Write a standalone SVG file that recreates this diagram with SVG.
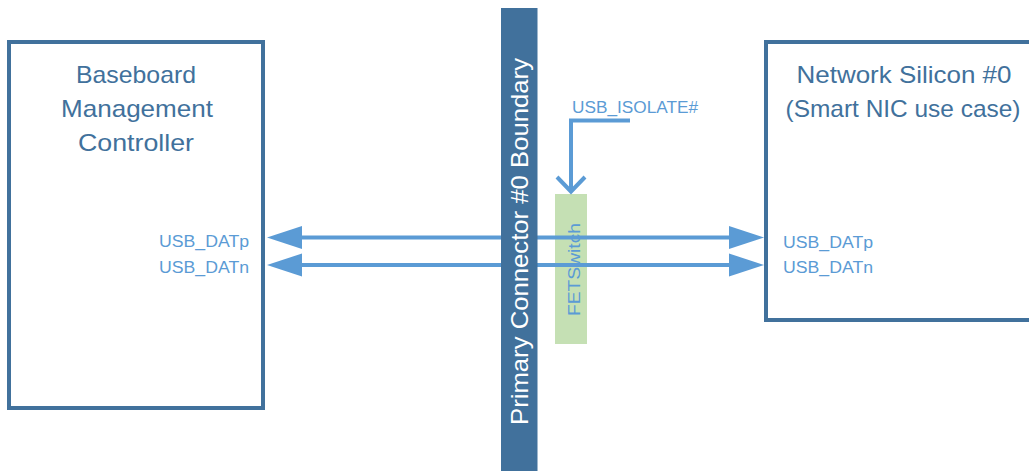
<svg xmlns="http://www.w3.org/2000/svg" width="1029" height="471" viewBox="0 0 1029 471">
<style>
.box{fill:#ffffff;stroke:#41719C;stroke-width:4}
.title{font-family:"Liberation Sans",Arial,sans-serif;font-size:24px;fill:#41719C;text-anchor:middle}
.lbl{font-family:"Liberation Sans",Arial,sans-serif;font-size:16px;fill:#5B9BD5}
.wire{stroke:#5B9BD5;stroke-width:4;fill:none}
.head{fill:#5B9BD5}
</style>
<rect width="1029" height="471" fill="#ffffff"/>
<g id="bmc">
<rect class="box" x="9" y="42" width="254" height="366"/>
<text class="title" x="136" y="83" textLength="120" lengthAdjust="spacingAndGlyphs">Baseboard</text>
<text class="title" x="137" y="117" textLength="152" lengthAdjust="spacingAndGlyphs">Management</text>
<text class="title" x="136" y="151" textLength="116" lengthAdjust="spacingAndGlyphs">Controller</text>
<text class="lbl" x="249" y="247" text-anchor="end" textLength="90" lengthAdjust="spacingAndGlyphs">USB_DATp</text>
<text class="lbl" x="249" y="273" text-anchor="end" textLength="90" lengthAdjust="spacingAndGlyphs">USB_DATn</text>
</g>
<g id="nic">
<rect class="box" x="766" y="42" width="280" height="278"/>
<text class="title" x="904" y="83" textLength="215" lengthAdjust="spacingAndGlyphs">Network Silicon #0</text>
<text class="title" x="903" y="117" textLength="235" lengthAdjust="spacingAndGlyphs">(Smart NIC use case)</text>
<text class="lbl" x="783" y="248" textLength="90" lengthAdjust="spacingAndGlyphs">USB_DATp</text>
<text class="lbl" x="783" y="273" textLength="90" lengthAdjust="spacingAndGlyphs">USB_DATn</text>
</g>
<g id="fetswitch">
<rect x="555" y="194" width="32" height="150" fill="#C5E0B4"/>
<text class="lbl" transform="translate(580,269.5) rotate(-90)" text-anchor="middle" font-size="15" textLength="93" lengthAdjust="spacingAndGlyphs">FETSwitch</text>
</g>
<g id="connectors">
<line class="wire" x1="300" y1="237.5" x2="730" y2="237.5"/>
<line class="wire" x1="300" y1="265" x2="730" y2="265"/>
<polygon class="head" points="267,237.5 302,226 302,249"/>
<polygon class="head" points="267,265 302,253.5 302,276.5"/>
<polygon class="head" points="764,237.5 729,226 729,249"/>
<polygon class="head" points="764,265 729,253.5 729,276.5"/>
<polyline class="wire" stroke-width="3.5" points="630,120.5 571,120.5 571,191"/>
<polyline class="wire" stroke-width="3.5" points="557,177 571,191.5 585,177"/>
</g>
<g id="boundary">
<rect x="501" y="8" width="36.5" height="463" fill="#41719C"/>
<text transform="translate(528,241.5) rotate(-90)" text-anchor="middle" font-family="'Liberation Sans',Arial,sans-serif" font-size="24" fill="#ffffff" textLength="367" lengthAdjust="spacingAndGlyphs">Primary Connector #0 Boundary</text>
</g>
<g id="isolate-label">
<text class="lbl" x="572" y="113" textLength="126" lengthAdjust="spacingAndGlyphs">USB_ISOLATE#</text>
</g>
</svg>
